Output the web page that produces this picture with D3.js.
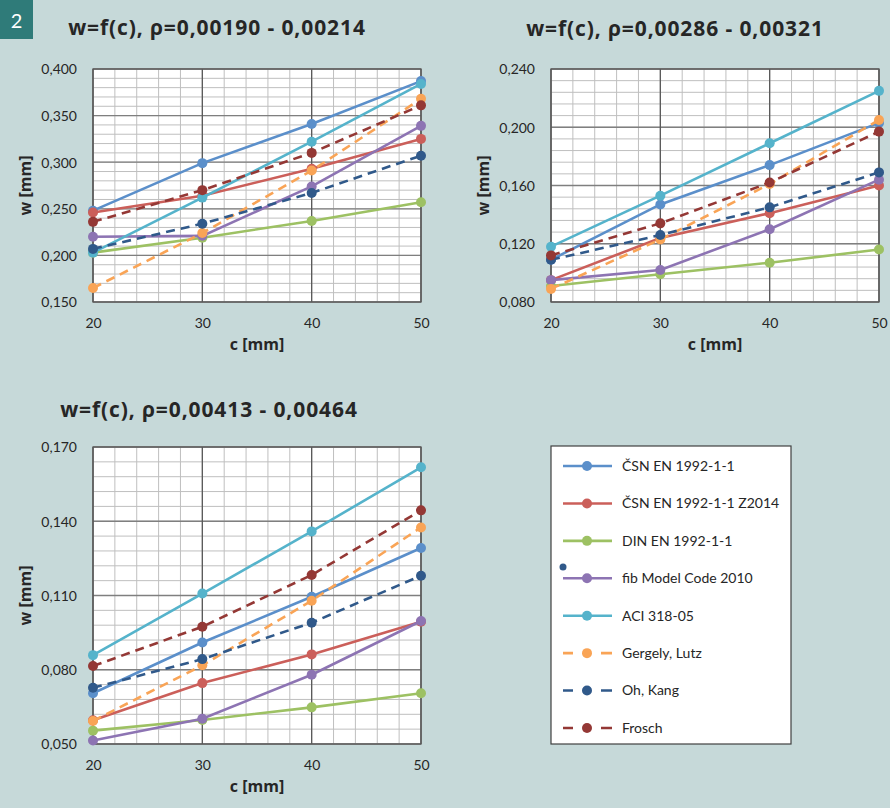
<!DOCTYPE html>
<html>
<head>
<meta charset="utf-8">
<script src="https://cdn.jsdelivr.net/npm/d3@7"></script>
<style>
  body { margin: 0; background: #c6d9d9; }
  svg { display: block; }
  text { font-family: Lato, "Open Sans", sans-serif; fill: #262626; }
  .bold { font-family: "Open Sans", Lato, sans-serif; font-weight: bold; }
</style>
</head>
<body>
<div id="graf"></div>
<script>
// data
const cValues = [20, 30, 40, 50]
const seriesNames = ['ČSN EN 1992-1-1', 'ČSN EN 1992-1-1 Z2014', 'DIN EN 1992-1-1', 'fib Model Code 2010',
  'ACI 318-05', 'Gergely, Lutz', 'Oh, Kang', 'Frosch']
const seriesColors = ['#5b8fca', '#cb5f5a', '#9dc163', '#8d74b3', '#55b3cb', '#f9a456', '#30598a', '#943835']
const seriesDashed = [false, false, false, false, false, true, true, true]

const panel1W = [
  [0.248, 0.299, 0.341, 0.387],
  [0.246, 0.264, 0.293, 0.325],
  [0.203, 0.219, 0.237, 0.257],
  [0.220, 0.221, 0.274, 0.339],
  [0.203, 0.262, 0.322, 0.384],
  [0.165, 0.224, 0.291, 0.368],
  [0.207, 0.234, 0.267, 0.307],
  [0.236, 0.270, 0.310, 0.361],
]
const panel2W = [
  [0.109, 0.147, 0.174, 0.203],
  [0.095, 0.124, 0.141, 0.160],
  [0.091, 0.099, 0.107, 0.116],
  [0.095, 0.102, 0.130, 0.164],
  [0.118, 0.153, 0.189, 0.225],
  [0.089, 0.123, 0.161, 0.205],
  [0.109, 0.126, 0.145, 0.169],
  [0.112, 0.134, 0.162, 0.197],
]
const panel3W = [
  [0.0705, 0.0910, 0.1095, 0.1292],
  [0.0596, 0.0746, 0.0862, 0.0994],
  [0.0554, 0.0597, 0.0648, 0.0705],
  [0.0514, 0.0602, 0.0780, 0.0997],
  [0.0859, 0.1108, 0.1359, 0.1618],
  [0.0593, 0.0818, 0.1079, 0.1375],
  [0.0727, 0.0843, 0.0990, 0.1180],
  [0.0815, 0.0974, 0.1183, 0.1444],
]
const yTicks1 = [0.150, 0.200, 0.250, 0.300, 0.350, 0.400]
const yTicks2 = [0.080, 0.120, 0.160, 0.200, 0.240]
const yTicks3 = [0.050, 0.080, 0.110, 0.140, 0.170]
const titles = ['w=f(c), ρ=0,00190 - 0,00214', 'w=f(c), ρ=0,00286 - 0,00321', 'w=f(c), ρ=0,00413 - 0,00464']

const svg = d3.select('#graf').append('svg')
  .attr('width', 890)
  .attr('height', 808)

svg.append('rect').attr('width', 890).attr('height', 808).attr('fill', '#c6d9d9')

// badge
svg.append('rect').attr('x', 0).attr('y', 0).attr('width', 33).attr('height', 39).attr('fill', '#2f7b79')
svg.append('text').attr('x', 16.5).attr('y', 28).attr('text-anchor', 'middle')
  .attr('font-size', 20).style('fill', '#fff').text('2')

const fmt = d3.formatLocale({ decimal: ',', thousands: ' ', grouping: [3], currency: ['', ''] }).format('.3f')

function panel(opt) {
  const x = d3.scaleLinear().domain([20, 50]).range([opt.left, opt.right])
  const y = d3.scaleLinear().domain([opt.ticks[0], opt.ticks[opt.ticks.length - 1]]).range([opt.bottom, opt.top])
  const g = svg.append('g')

  g.append('rect')
    .attr('x', opt.left).attr('y', opt.top)
    .attr('width', opt.right - opt.left).attr('height', opt.bottom - opt.top)
    .attr('fill', '#fff')

  const step = opt.ticks[1] - opt.ticks[0]
  const minorY = d3.range(0, (opt.ticks.length - 1) * 5 + 1).map(i => opt.ticks[0] + i * step / 5)
  const minorX = d3.range(20, 51, 2)

  g.selectAll('.minx').data(minorX).enter().append('line')
    .attr('x1', d => x(d)).attr('x2', d => x(d))
    .attr('y1', opt.top).attr('y2', opt.bottom)
    .attr('stroke', '#bfbfbf').attr('stroke-width', 1)
  g.selectAll('.miny').data(minorY).enter().append('line')
    .attr('y1', d => y(d)).attr('y2', d => y(d))
    .attr('x1', opt.left).attr('x2', opt.right)
    .attr('stroke', '#bfbfbf').attr('stroke-width', 1)
  g.selectAll('.majy').data(opt.ticks).enter().append('line')
    .attr('y1', d => y(d)).attr('y2', d => y(d))
    .attr('x1', opt.left).attr('x2', opt.right)
    .attr('stroke', '#7f7f7f').attr('stroke-width', 1.3)
  g.selectAll('.majx').data(cValues).enter().append('line')
    .attr('x1', d => x(d)).attr('x2', d => x(d))
    .attr('y1', opt.top).attr('y2', opt.bottom)
    .attr('stroke', '#595959').attr('stroke-width', 1.3)
  g.append('rect')
    .attr('x', opt.left).attr('y', opt.top)
    .attr('width', opt.right - opt.left).attr('height', opt.bottom - opt.top)
    .attr('fill', 'none').attr('stroke', '#595959').attr('stroke-width', 1.3)

  // axes
  const yAxis = g.append('g')
    .attr('transform', `translate(${opt.left},0)`)
    .call(d3.axisLeft(y).tickValues(opt.ticks).tickFormat(fmt).tickSize(0).tickPadding(16))
  yAxis.select('.domain').remove()
  yAxis.selectAll('text').attr('font-size', 14).attr('font-family', null).attr('dy', '0.35em')

  const xAxis = g.append('g')
    .attr('transform', `translate(0,${opt.bottom})`)
    .call(d3.axisBottom(x).tickValues(cValues).tickSize(0).tickPadding(16))
  xAxis.select('.domain').remove()
  xAxis.selectAll('text').attr('font-size', 14).attr('font-family', null)

  g.append('text').attr('class', 'bold')
    .attr('x', (opt.left + opt.right) / 2).attr('y', opt.bottom + 48)
    .attr('text-anchor', 'middle').attr('font-size', 16)
    .text('c [mm]')
  g.append('text').attr('class', 'bold')
    .attr('transform', `translate(${opt.yLabelX},${(opt.top + opt.bottom) / 2}) rotate(-90)`)
    .attr('text-anchor', 'middle').attr('font-size', 16)
    .text('w [mm]')

  g.append('text').attr('class', 'bold')
    .attr('x', opt.titleX).attr('y', opt.titleY)
    .attr('text-anchor', 'middle').attr('font-size', 21)
    .attr('letter-spacing', 0.9)
    .text(opt.title)

  const line = d3.line().x((d, i) => x(cValues[i])).y(d => y(d))
  opt.values.forEach((vals, s) => {
    g.append('path')
      .attr('d', line(vals))
      .attr('fill', 'none')
      .attr('stroke', seriesColors[s])
      .attr('stroke-width', 2.6)
      .attr('stroke-dasharray', seriesDashed[s] ? '9,6' : null)
    g.selectAll(null).data(vals).enter().append('circle')
      .attr('cx', (d, i) => x(cValues[i])).attr('cy', d => y(d))
      .attr('r', 5).attr('fill', seriesColors[s])
  })
}

panel({ left: 93, right: 421, top: 69, bottom: 302, ticks: yTicks1, values: panel1W,
  title: titles[0], titleX: 217, titleY: 35, yLabelX: 31 })
panel({ left: 551, right: 879, top: 69, bottom: 302, ticks: yTicks2, values: panel2W,
  title: titles[1], titleX: 675, titleY: 36, yLabelX: 489 })
panel({ left: 93, right: 421, top: 447, bottom: 744, ticks: yTicks3, values: panel3W,
  title: titles[2], titleX: 209, titleY: 417, yLabelX: 31 })

// legend
const legend = svg.append('g')
legend.append('rect')
  .attr('x', 551).attr('y', 446).attr('width', 240).attr('height', 298)
  .attr('fill', '#fff').attr('stroke', '#404040').attr('stroke-width', 1.2)

const rowY = d3.scalePoint().domain(seriesNames).range([466, 728])
seriesNames.forEach((name, s) => {
  const yy = rowY(name)
  legend.append('line')
    .attr('x1', 563).attr('x2', 612).attr('y1', yy).attr('y2', yy)
    .attr('stroke', seriesColors[s]).attr('stroke-width', 2.6)
    .attr('stroke-dasharray', seriesDashed[s] ? '10,28,11' : null)
  legend.append('circle').attr('cx', 587).attr('cy', yy).attr('r', 5).attr('fill', seriesColors[s])
  legend.append('text').attr('x', 622).attr('y', yy).attr('dy', '0.35em')
    .attr('font-size', 14).text(name)
})
// stray marker present in the original legend
legend.append('circle').attr('cx', 563).attr('cy', 567).attr('r', 3.5).attr('fill', seriesColors[6])
</script>
</body>
</html>
